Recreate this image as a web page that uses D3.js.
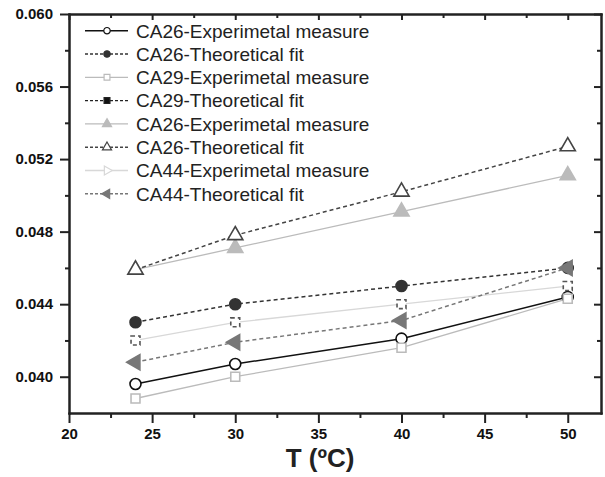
<!DOCTYPE html>
<html>
<head>
<meta charset="utf-8">
<script src="https://cdn.jsdelivr.net/npm/d3@7"></script>
<style>
	body{margin:0;background:#fff}
	#chart{width:605px;height:477px}
	.axis path,.axis line{stroke:#222;stroke-width:2}
	.axis text{font-family:"Liberation Sans",Arial,sans-serif;font-weight:bold;font-size:15px;fill:#111}
	.legend text{font-family:"Liberation Sans",Arial,sans-serif;font-size:19px;fill:#222}
</style>
</head>
<body>
<div id="chart"></div>
<script>
// values
var temps=[24,30,40,50]
var ca26Exp=[0.0396,0.0407,0.0421,0.0444]
var ca26Fit=[0.0430,0.0440,0.0450,0.0460]
var ca29Exp=[0.0388,0.0400,0.0416,0.0443]
var ca29Fit=[]   // listed in the legend, not visible in the plot
var ca26ExpB=[0.0459,0.0471,0.0491,0.0511]
var ca26FitB=[0.0459,0.0478,0.0502,0.0527]
var ca44Exp=[0.0420,0.0430,0.0440,0.0450]
var ca44Fit=[0.0408,0.0419,0.0431,0.0460]

var xMajor=[20,25,30,35,40,45,50]
var xMinor=[22.5,27.5,32.5,37.5,42.5,47.5]
var yMajor=[0.040,0.044,0.048,0.052,0.056,0.060]
var yMinor=[0.042,0.046,0.050,0.054,0.058]

var series=[
	{name:"CA26-Experimetal measure",values:ca26Exp,color:"#111",dash:null,sym:"circle",fill:"#fff",width:1.5},
	{name:"CA26-Theoretical fit",values:ca26Fit,color:"#333",dash:"4,3",sym:"circle",fill:"#333",width:1.5},
	{name:"CA29-Experimetal measure",values:ca29Exp,color:"#bbb",dash:null,sym:"square",fill:"#fff",width:1.3},
	{name:"CA29-Theoretical fit",values:ca29Fit,color:"#222",dash:"4,3",sym:"square",fill:"#111",width:1.3},
	{name:"CA26-Experimetal measure",values:ca26ExpB,color:"#bbb",dash:null,sym:"triangle",fill:"#bbb",width:1.3},
	{name:"CA26-Theoretical fit",values:ca26FitB,color:"#444",dash:"4,3",sym:"triangle",fill:"#fff",width:1.5},
	{name:"CA44-Experimetal measure",values:ca44Exp,color:"#d8d8d8",dash:null,sym:"right",fill:"#fff",width:1.3,plotSym:"dashsquare"},
	{name:"CA44-Theoretical fit",values:ca44Fit,color:"#777",dash:"4,3",sym:"left",fill:"#777",width:1.5}
]

var W=605,H=477
var svg=d3.select("#chart").append("svg").attr("width",W).attr("height",H)

var x=d3.scaleLinear().domain([20,52]).range([69,601])
var y=d3.scaleLinear().domain([0.038,0.060]).range([413,14])

// axes
function drawAxes(){
	var gx=svg.append("g").attr("class","axis").attr("transform","translate(0,413)")
	gx.call(d3.axisBottom(x).tickValues(xMajor).tickSize(10).tickSizeOuter(0).tickPadding(5).tickFormat(d3.format("d")))
	svg.append("g").attr("class","axis").attr("transform","translate(0,413)")
		.call(d3.axisBottom(x).tickValues(xMinor).tickSize(5).tickSizeOuter(0).tickFormat(""))

	svg.append("g").attr("class","axis").attr("transform","translate(0,14)")
		.call(d3.axisTop(x).tickValues(xMajor).tickSize(-6).tickSizeOuter(0).tickFormat(""))
	svg.append("g").attr("class","axis").attr("transform","translate(0,14)")
		.call(d3.axisTop(x).tickValues(xMinor).tickSize(-4).tickSizeOuter(0).tickFormat(""))

	svg.append("g").attr("class","axis").attr("transform","translate(69,0)")
		.call(d3.axisLeft(y).tickValues(yMajor).tickSize(9).tickSizeOuter(0).tickPadding(7).tickFormat(d3.format(".3f")))
	svg.append("g").attr("class","axis").attr("transform","translate(69,0)")
		.call(d3.axisLeft(y).tickValues(yMinor).tickSize(4).tickSizeOuter(0).tickFormat(""))

	svg.append("g").attr("class","axis").attr("transform","translate(601,0)")
		.call(d3.axisRight(y).tickValues(yMajor).tickSize(-7).tickSizeOuter(0).tickFormat(""))
	svg.append("g").attr("class","axis").attr("transform","translate(601,0)")
		.call(d3.axisRight(y).tickValues(yMinor).tickSize(-4).tickSizeOuter(0).tickFormat(""))

	svg.selectAll(".axis .domain").attr("stroke-linecap","square")

	svg.append("text")
		.attr("x",320).attr("y",467)
		.attr("text-anchor","middle")
		.style("font-family","'Liberation Sans',Arial,sans-serif")
		.style("font-weight","bold").style("font-size","26px").style("fill","#222")
		.text("T (ºC)")
}

function symbolPath(kind,size){
	var t=d3.symbolCircle
	if(kind=="square"||kind=="dashsquare") t=d3.symbolSquare
	if(kind=="triangle"||kind=="left"||kind=="right") t=d3.symbolTriangle
	return d3.symbol().type(t).size(size)()
}
function symbolRotate(kind){
	if(kind=="left") return " rotate(-90)"
	if(kind=="right") return " rotate(90)"
	return ""
}

function drawMarker(g,s,kind,cx,cy,size,sw){
	var p=g.append("path")
		.attr("d",symbolPath(kind,size))
		.attr("transform","translate("+cx+","+cy+")"+symbolRotate(kind))
		.attr("fill",s.fill)
		.attr("stroke",s.color)
		.attr("stroke-width",sw)
	if(kind=="dashsquare"){
		p.attr("fill","#fff").attr("stroke","#555").attr("stroke-dasharray","4,3")
	}
	return p
}

function drawSeries(){
	var line=d3.line().x((d,i)=>x(temps[i])).y(d=>y(d))
	var g=svg.append("g")
	series.forEach(function(s){
		if(!s.values.length) return
		g.append("path")
			.datum(s.values)
			.attr("fill","none")
			.attr("stroke",s.color)
			.attr("stroke-width",s.width)
			.attr("stroke-dasharray",s.dash)
			.attr("d",line)
	})
	series.forEach(function(s){
		var kind=s.plotSym||s.sym
		var size=kind=="circle"?95:(kind=="square"||kind=="dashsquare")?80:100
		s.values.forEach(function(v,i){
			drawMarker(g,s,kind,x(temps[i]),y(v),size,1.6)
		})
	})
}

function drawLegend(){
	var lg=svg.append("g").attr("class","legend")
	var rows=lg.selectAll("g").data(series).enter().append("g")
		.attr("transform",(d,i)=>"translate(0,"+(30.7+23.3*i)+")")
	rows.append("line")
		.attr("x1",85).attr("x2",128)
		.attr("stroke",d=>d.color)
		.attr("stroke-width",d=>d.width)
		.attr("stroke-dasharray",d=>d.dash?"3,2":null)
	rows.each(function(d){
		var size=d.sym=="circle"?32:d.sym=="square"?34:36
		drawMarker(d3.select(this),d,d.sym,107,0,size,1.2)
	})
	rows.append("text")
		.attr("x",136).attr("y",6.8)
		.text(d=>d.name)
}

drawSeries()
drawAxes()
drawLegend()
</script>
</body>
</html>
